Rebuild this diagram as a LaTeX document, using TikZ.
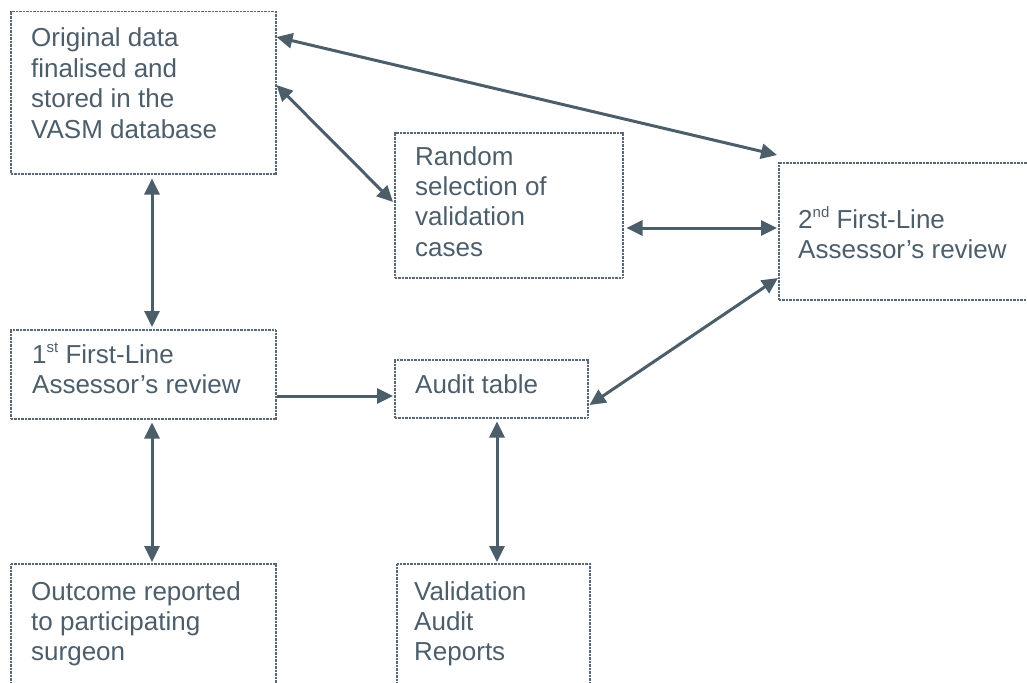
\documentclass[tikz,border=0pt]{standalone}
\usepackage{fontspec}
\setmainfont{Liberation Sans}
\usetikzlibrary{arrows.meta,calc}

\definecolor{slate}{HTML}{4D5E6B}
\definecolor{edgegrey}{HTML}{56677A}

\tikzset{
  flowbox/.style={draw=edgegrey, line width=1.5pt, dash pattern=on 1pt off 0.4pt,
    anchor=north west, inner sep=0pt},
  boxtext/.style={anchor=base west, inner sep=0pt, text=slate,
    font=\fontsize{26}{30.4}\selectfont},
  link/.style={draw=slate, line width=3pt, {Triangle[length=16pt,width=15pt]}-{Triangle[length=16pt,width=15pt]}},
  onelink/.style={draw=slate, line width=3pt, -{Triangle[length=16pt,width=15pt]}}
}

\newcommand{\lines}[1]{\parbox[t]{10cm}{\raggedright #1}}
\newcommand{\sups}[1]{\raisebox{0.75ex}{\fontsize{15}{15}\selectfont #1}}

\begin{document}
\begin{tikzpicture}[x=1pt,y=-1pt]
  \useasboundingbox (0,0) rectangle (1027,682);

  % boxes
  \node[flowbox, minimum width=265, minimum height=162] (orig) at (10,11) {};
  \node[flowbox, minimum width=228, minimum height=145] (random) at (394,132) {};
  \node[flowbox, minimum width=270, minimum height=137] (second) at (778,162) {};
  \node[flowbox, minimum width=265, minimum height=89] (first) at (10,329) {};
  \node[flowbox, minimum width=193, minimum height=58] (audit) at (394,359) {};
  \node[flowbox, minimum width=265, minimum height=150] (outcome) at (10,563) {};
  \node[flowbox, minimum width=193, minimum height=150] (reports) at (396,563) {};

  % box texts
  \node[boxtext] (origtext) at ($(orig.north west)+(21,36)$)
    {\lines{Original data\\finalised and\\stored in the\\VASM database}};
  \node[boxtext] (randomtext) at ($(random.north west)+(21,33)$)
    {\lines{Random\\selection of\\validation\\cases}};
  \node[boxtext] (secondtext) at ($(second.north west)+(20,66)$)
    {\lines{2\sups{nd} First-Line\\Assessor’s review}};
  \node[boxtext] (firsttext) at ($(first.north west)+(22,34)$)
    {\lines{1\sups{st} First-Line\\Assessor’s review}};
  \node[boxtext] (audittext) at ($(audit.north west)+(21,34)$)
    {\lines{Audit table}};
  \node[boxtext] (outcometext) at ($(outcome.north west)+(21,37)$)
    {\lines{Outcome reported\\to participating\\surgeon}};
  \node[boxtext] (reportstext) at ($(reports.north west)+(18,37)$)
    {\lines{Validation\\Audit\\Reports}};

  % connectors
  \draw[link] ($(orig.north east)+(0,26)$) -- ($(second.north west)+(-1,-7)$);
  \draw[link] ($(orig.north east)+(0,74)$) -- ($(random.north west)+(-1,70)$);
  \draw[link] ($(orig.south west)+(142,4)$) -- ($(first.north west)+(142,-2)$);
  \draw[link] ($(random.north east)+(3,96)$) -- ($(second.north west)+(-1,66)$);
  \draw[onelink] ($(first.north east)+(0,67)$) -- ($(audit.north west)+(-1,37)$);
  \draw[link] ($(second.north west)+(0,116)$) -- ($(audit.north east)+(1,46)$);
  \draw[link] ($(first.south west)+(142,3)$) -- ($(outcome.north west)+(142,-1)$);
  \draw[link] ($(audit.south west)+(103,3)$) -- ($(reports.north west)+(101,-1)$);
\end{tikzpicture}
\end{document}
